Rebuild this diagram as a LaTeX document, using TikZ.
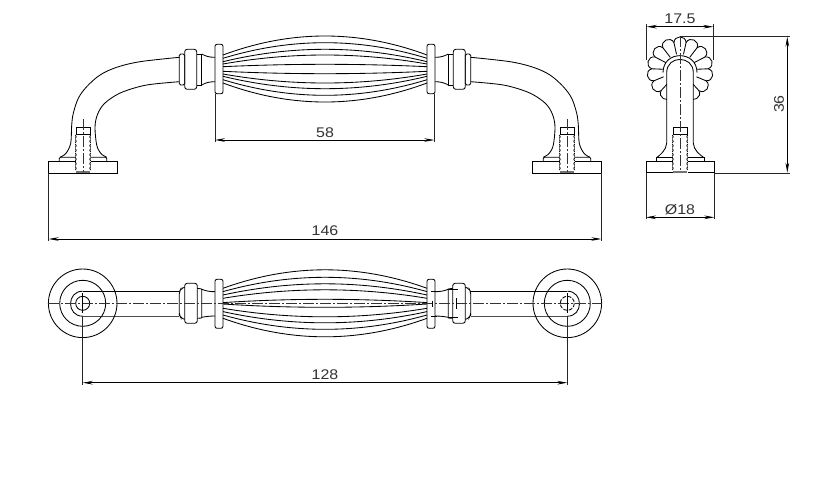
\documentclass[tikz,border=0pt]{standalone}
\usepackage{fontspec}
\setmainfont[FakeStretch=1.14]{Liberation Sans}
\usetikzlibrary{arrows.meta}
\tikzset{
  obj/.style={line width=0.85pt,black},
  thin obj/.style={line width=0.7pt,black},
  center line/.style={line width=0.6pt,black!80,dash pattern=on 11pt off 2pt on 2pt off 2pt},
  hidden line/.style={line width=0.7pt,black!65,dash pattern=on 5pt off 2.5pt},
  ext line/.style={line width=0.7pt,black!85},
  dim line/.style={line width=0.8pt,black,{Stealth[length=10pt,width=3.6pt]}-{Stealth[length=10pt,width=3.6pt]}},
  dim text/.style={font=\fontsize{14}{14}\selectfont,inner sep=0pt,text=black!80},
}
% thread profile of the fixing bolt, centred on x=#1, from y=135 to y=172
\newcommand\ThreadBolt[1]{
  \fill[white] (#1-7.5,127) rectangle (#1+7.5,172.7);
  \draw[obj] (#1-7,134.7) -- (#1-7,127.3) -- (#1+7,127.3) -- (#1+7,134.7);
  \draw[obj] (#1-7,134.7) -- (#1+7,134.7);
  \foreach \t in {135,139.5,...,168} {
    \draw[obj] (#1-7.6,\t) .. controls (#1-6.6,\t+1) and (#1-6.6,\t+2.5) .. (#1-7.6,\t+3.5);
    \draw[obj] (#1+7.6,\t) .. controls (#1+6.6,\t+1) and (#1+6.6,\t+2.5) .. (#1+7.6,\t+3.5);
  }
  \fill[black!55] (#1-7,171) rectangle (#1+7,173.4);
}
% ribs of the grip: centre y, list of end/centre offsets
\newcommand\GripRibs[2]{
  \foreach \e/\c in {#2} {
    \pgfmathsetmacro\cu{\e+(\c-\e)/0.75}
    \draw[obj] (223,#1-\e) .. controls (291,#1-\cu) and (359,#1-\cu) .. (427,#1-\e);
    \draw[obj] (223,#1+\e) .. controls (291,#1+\cu) and (359,#1+\cu) .. (427,#1+\e);
  }
}
% left half of the front view
\newcommand\FrontHalf{
  \draw[obj] plot[smooth,tension=.55] coordinates {(60,157.3) (66,153.3) (70.7,143.3) (71.7,125) (73.3,113.3) (78.3,98.3) (86.7,86.7) (100,75) (116.7,67.3) (140,61.7) (179.3,57.3)};
  \draw[obj] plot[smooth,tension=.55] coordinates {(106.7,157.3) (100.7,153.3) (96.7,145) (95,128) (96.7,116.7) (101.7,106.7) (110,99) (123.3,91.7) (146.7,85) (179.3,81.7)};
  \draw[obj] (48.7,161) rectangle (117.3,173.3);
  \draw[obj] (59.3,161) -- (59.3,158.5) -- (60.5,157.3) -- (105.5,157.3) -- (106.7,158.5) -- (106.7,161);
  \draw[obj,rounded corners=1.5pt] (179.3,54) rectangle (184.7,85);
  \draw[obj,rounded corners=2.5pt] (184.7,49.3) rectangle (196.7,89.3);
  \draw[obj] (196.7,54) -- (201.7,54) -- (201.7,85) -- (196.7,85);
  \draw[obj] (201.7,54) .. controls (206,56.5) and (210,57.3) .. (215,57.3);
  \draw[obj] (201.7,85) .. controls (206,82.5) and (210,81.7) .. (215,81.7);
  \draw[obj,rounded corners=2pt] (215,44.3) rectangle (223,93.7);
  \ThreadBolt{83}
  \draw[center line] (83,119) -- (83,172);
}
% left half of the plan view, without the boss circles
\newcommand\PlanHalf{
  \draw[obj] (82.7,291.7) -- (179.3,291.7);
  \draw[obj,black!70] (82.7,316) -- (179.3,316);
  \draw[obj,rounded corners=2pt] (184.7,287.3) -- (181,288.5) -- (179.3,292) -- (179.3,315) -- (181,318) -- (184.7,319.3);
  \draw[obj,rounded corners=2.5pt] (184.7,283.3) rectangle (197.3,323.3);
  \draw[obj] (197.3,288.3) -- (201.7,289) -- (201.7,318) -- (197.3,318.3);
  \draw[obj] (201.7,289.3) .. controls (206,291) and (210,291.7) .. (215,291.7);
  \draw[obj] (201.7,317.3) .. controls (206,316.5) and (210,316) .. (215,316);
  \draw[obj,rounded corners=2pt] (215,279.3) rectangle (223,328.3);
  \draw[obj] (82.7,303.3) circle[radius=34.3];
  \draw[obj] (82.7,303.3) circle[radius=23];
}
\begin{document}
\begin{tikzpicture}[x=1pt,y=-1pt]
\useasboundingbox (0,0) rectangle (824,493);
\fill[white] (0,0) rectangle (824,493);

% ---------- front view ----------
\FrontHalf
\begin{scope}[xshift=650pt,xscale=-1]
\FrontHalf
\end{scope}
\GripRibs{69}{14/33,10.7/26.3,7.3/19.7,5/14,2.3/4.7}

% ---------- plan view ----------
\PlanHalf
\begin{scope}[xshift=650pt,xscale=-1]
\PlanHalf
\end{scope}
\GripRibs{303.3}{15/33.5,11.7/26,8.3/19.5,5/13.5,0.7/4}
% rod ends round the screw holes
\draw[obj] (82.7,291.2) .. controls (66.5,291.2) and (66.5,316.2) .. (82.7,316.2);
\draw[obj] (567.3,291.2) .. controls (583.5,291.2) and (583.5,316.2) .. (567.3,316.2);
\draw[obj] (82.7,303.3) circle[radius=7];
\draw[obj,dash pattern=on 4pt off 1.5pt] (567.3,303.3) circle[radius=7];
\draw[center line] (48,303.3) -- (602,303.3);
\draw[thin obj] (82.7,293) -- (82.7,313);
\draw[thin obj] (567.3,293) -- (567.3,313);
\draw[thin obj] (431,291.7) -- (437,291.7) (431,316) -- (437,316);
\draw[thin obj] (432.7,300.5) -- (432.7,306.5) (456.7,298) -- (456.7,308.5);
\draw[thin obj] (448.3,289.3) -- (457.7,289.3) (448.3,317.3) -- (457.7,317.3);

% ---------- side view ----------
\foreach \a in {-162.5,-137.5,-112.5,-87.5,-62.5,-37.5,-12.5,12.5,37.5,62.5,87.5,112.5,137.5} {
  \draw[obj] ({680+28*sin(\a)},{70-28*cos(\a)})
    .. controls ({680+35.5*sin(\a+3)},{70-35.5*cos(\a+3)}) and ({680+35.5*sin(\a+22)},{70-35.5*cos(\a+22)})
    .. ({680+28*sin(\a+25)},{70-28*cos(\a+25)});
}
\foreach \a in {-137.5,-112.5,-87.5,-62.5,-37.5,-12.5,12.5,37.5,62.5,87.5,112.5,137.5} {
  \draw[obj] ({680+16*sin(\a)},{70-16*cos(\a)}) -- ({680+28*sin(\a)},{70-28*cos(\a)});
}
\fill[white] (680,72.6) circle[radius=17];
\fill[white] (666.7,72) rectangle (693.3,157);
\draw[obj] (663,72.6) .. controls (663,50) and (697,50) .. (697,72.6);
\draw[obj] (666.7,143) -- (666.7,72.6) .. controls (666.7,55) and (693.3,55) .. (693.3,72.6) -- (693.3,143);
\draw[obj] (666.7,143) .. controls (666.5,150) and (660,155) .. (656.7,157.7);
\draw[obj] (693.3,143) .. controls (693.5,150) and (700,155) .. (704,157.7);
\draw[obj] (646,161.7) rectangle (714.3,172.9);
\draw[obj] (656.7,161.7) -- (656.7,157.7) -- (704,157.7) -- (704,161.7);
\ThreadBolt{680}
\draw[center line] (680,36) -- (680,172);

% ---------- dimensions ----------
\coordinate (a58) at (215,140);
\coordinate (b58) at (434.3,140);
\draw[ext line] (215,93.7) -- (215,142);
\draw[ext line] (434.3,93.7) -- (434.3,142);
\draw[dim line] (a58) -- (b58);
\node[dim text] (t58) at (325,133) {58};

\coordinate (a146) at (48.7,239);
\coordinate (b146) at (601.3,239);
\draw[ext line] (48.7,173.3) -- (48.7,241);
\draw[ext line] (601.3,173.3) -- (601.3,241);
\draw[dim line] (a146) -- (b146);
\node[dim text] (t146) at (325,231) {146};

\coordinate (a128) at (82.7,382.7);
\coordinate (b128) at (567.3,382.7);
\draw[ext line] (82.7,316) -- (82.7,384.5);
\draw[ext line] (567.3,316) -- (567.3,384.5);
\draw[dim line] (a128) -- (b128);
\node[dim text] (t128) at (325,374.5) {128};

\coordinate (a175) at (646.7,26.7);
\coordinate (b175) at (713.3,26.7);
\draw[ext line] (646.7,23.5) -- (646.7,60);
\draw[ext line] (713.3,23.5) -- (713.3,60);
\draw[dim line] (a175) -- (b175);
\node[dim text] (t175) at (680,19) {17.5};

\coordinate (a18) at (646,217.3);
\coordinate (b18) at (714.3,217.3);
\draw[ext line] (646,172.9) -- (646,219);
\draw[ext line] (714.3,172.9) -- (714.3,219);
\draw[dim line] (a18) -- (b18);
\node[dim text] (t18) at (680,210) {Ø18};

\coordinate (a36) at (787.3,36.7);
\coordinate (b36) at (787.3,172.7);
\draw[ext line] (680,36.7) -- (789.5,36.7);
\draw[ext line] (714.3,172.9) -- (789.5,172.9);
\draw[dim line] (a36) -- (b36);
\node[dim text,rotate=90] (t36) at (779,104) {36};
\end{tikzpicture}
\end{document}
